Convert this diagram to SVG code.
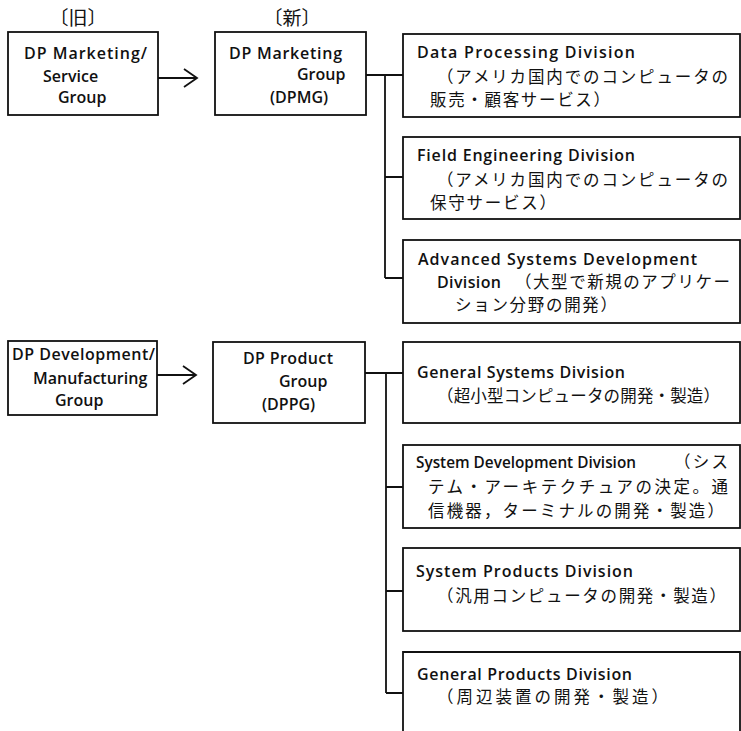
<svg xmlns="http://www.w3.org/2000/svg" width="741" height="731" viewBox="0 0 741 731">
<style>
.box{fill:#fff;stroke:#111;stroke-width:1.8}
.ln{fill:none;stroke:#111;stroke-width:1.8}
.en{font-family:"Open Sans","Noto Sans","DejaVu Sans",sans-serif;font-weight:600;font-size:16px;fill:#111}
.jp{font-family:"Noto Sans CJK JP","Noto Sans CJK SC",sans-serif;font-size:16.5px;fill:#111}
.hd{font-family:"Noto Sans CJK JP","Noto Sans CJK SC",sans-serif;font-size:19px;fill:#111}
</style>
<rect width="741" height="731" fill="#fff"/>
<g id="headers">
<text class="hd" x="78" y="25" text-anchor="middle">〔旧〕</text>
<text class="hd" x="292" y="25" text-anchor="middle">〔新〕</text>
</g>
<g id="connectors">
<path class="ln" d="M158,78H196M184,69L197,78L184,87"/>
<path class="ln" d="M157,375H196M183,366L196,375L183,384"/>
<path class="ln" d="M366,75H403M385,75V278M385,177H403M385,278H403"/>
<path class="ln" d="M365,373H403M386,373V693M386,487H403M386,591H403M386,693H403"/>
</g>
<g id="old-dpms">
<rect class="box" x="8" y="32" width="150" height="83"/>
<text class="en" x="24" y="59" textLength="123" lengthAdjust="spacing">DP Marketing/</text>
<text class="en" x="43" y="82">Service</text>
<text class="en" x="58" y="103">Group</text>
</g>
<g id="dpmg">
<rect class="box" x="215" y="32" width="151" height="83"/>
<text class="en" x="229" y="59" textLength="113" lengthAdjust="spacing">DP Marketing</text>
<text class="en" x="297" y="80">Group</text>
<text class="en" x="270" y="103">(DPMG)</text>
</g>
<g id="dpd">
<rect class="box" x="403" y="34" width="337" height="83"/>
<text class="en" x="417" y="58" textLength="218" lengthAdjust="spacing">Data Processing Division</text>
<text class="jp" x="437" y="83" textLength="291" lengthAdjust="spacing">（アメリカ国内でのコンピュータの</text>
<text class="jp" x="430" y="106" textLength="180" lengthAdjust="spacing">販売・顧客サービス）</text>
</g>
<g id="fed">
<rect class="box" x="403" y="137" width="337" height="82"/>
<text class="en" x="417" y="161" textLength="218" lengthAdjust="spacing">Field Engineering Division</text>
<text class="jp" x="437" y="186" textLength="291" lengthAdjust="spacing">（アメリカ国内でのコンピュータの</text>
<text class="jp" x="430" y="209" textLength="126" lengthAdjust="spacing">保守サービス）</text>
</g>
<g id="asdd">
<rect class="box" x="403" y="240" width="337" height="83"/>
<text class="en" x="418" y="265" textLength="279" lengthAdjust="spacing">Advanced Systems Development</text>
<text class="en" x="437" y="288" textLength="64" lengthAdjust="spacing">Division</text>
<text class="jp" x="515" y="288" textLength="215" lengthAdjust="spacing">（大型で新規のアプリケー</text>
<text class="jp" x="455" y="311" textLength="162" lengthAdjust="spacing">ション分野の開発）</text>
</g>
<g id="old-dpdm">
<rect class="box" x="8" y="341" width="149" height="74"/>
<text class="en" x="12" y="360" textLength="143" lengthAdjust="spacing">DP Development/</text>
<text class="en" x="33" y="384">Manufacturing</text>
<text class="en" x="55" y="406">Group</text>
</g>
<g id="dppg">
<rect class="box" x="213" y="342" width="152" height="81"/>
<text class="en" x="243" y="364" textLength="90" lengthAdjust="spacing">DP Product</text>
<text class="en" x="279" y="387">Group</text>
<text class="en" x="262" y="410">(DPPG)</text>
</g>
<g id="gsd">
<rect class="box" x="403" y="342" width="337" height="81"/>
<text class="en" x="417" y="378" textLength="208" lengthAdjust="spacing">General Systems Division</text>
<text class="jp" x="437" y="402" textLength="283" lengthAdjust="spacing">（超小型コンピュータの開発・製造）</text>
</g>
<g id="sdd">
<rect class="box" x="403" y="445" width="337" height="83"/>
<text class="en" x="416" y="468" font-size="15" textLength="220" lengthAdjust="spacingAndGlyphs">System Development Division</text>
<text class="jp" x="674" y="468" textLength="54" lengthAdjust="spacing">（シス</text>
<text class="jp" x="428" y="493" textLength="300" lengthAdjust="spacing">テム・アーキテクチュアの決定。通</text>
<text class="jp" x="428" y="517" textLength="296" lengthAdjust="spacing">信機器，ターミナルの開発・製造）</text>
</g>
<g id="spd">
<rect class="box" x="403" y="548" width="337" height="83"/>
<text class="en" x="416" y="577" textLength="217" lengthAdjust="spacing">System Products Division</text>
<text class="jp" x="437" y="602" textLength="289" lengthAdjust="spacing">（汎用コンピュータの開発・製造）</text>
</g>
<g id="gpd">
<path class="box" d="M403,740V652H740V740"/>
<text class="en" x="417" y="680" textLength="215" lengthAdjust="spacing">General Products Division</text>
<text class="jp" x="437" y="703" textLength="231" lengthAdjust="spacing">（周辺装置の開発・製造）</text>
</g>
</svg>
